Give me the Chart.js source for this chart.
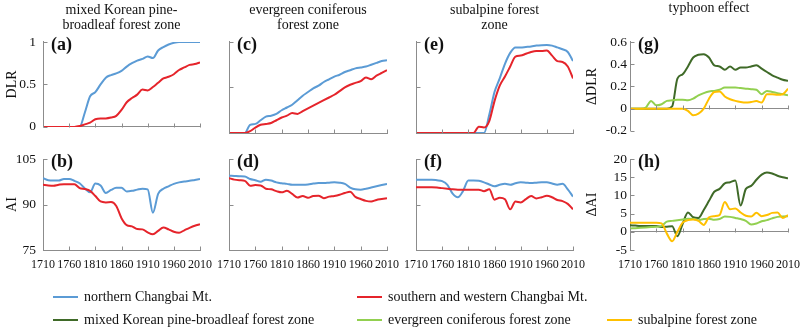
<!DOCTYPE html>
<html>
<head>
<meta charset="utf-8">
<script src="https://cdn.jsdelivr.net/npm/chart.js@4"></script>
<style>
  body { margin: 0; background: #fff; }
  #fig { position: relative; width: 800px; height: 332px; overflow: hidden;
         font-family: "Liberation Serif", "Times New Roman", Times, "DejaVu Serif", serif; color: #111; }
  #fig canvas { position: absolute; }
  .key { position: absolute; font-size: 14px; line-height: 16px; white-space: nowrap; }
  .key i { display: inline-block; width: 25px; height: 2px; vertical-align: middle; margin-right: 6px; position: relative; top: -1px; }
</style>
</head>
<body>
<div id="fig">
  <canvas id="pa"></canvas><canvas id="pc"></canvas><canvas id="pe"></canvas><canvas id="pg"></canvas>
  <canvas id="pb"></canvas><canvas id="pd"></canvas><canvas id="pf"></canvas><canvas id="ph"></canvas>
</div>
<script>
const years = [1710, 1720, 1730, 1740, 1750, 1760, 1770, 1780, 1790, 1800, 1810,
  1820, 1830, 1840, 1850, 1860, 1870, 1880, 1890, 1900, 1910, 1920, 1930, 1940,
  1950, 1960, 1970, 1980, 1990, 2000, 2010];
const yearTicks = [1710, 1760, 1810, 1860, 1910, 1960, 2010];

// DLR, northern vs southern/western slopes
const dlrNorthMixed = [0, 0, 0, 0, 0, 0, 0, 0, 0.17, 0.36, 0.41, 0.50, 0.58, 0.61, 0.63, 0.66,
  0.71, 0.75, 0.78, 0.80, 0.83, 0.81, 0.90, 0.94, 0.97, 0.99, 1, 1, 1, 1, 1];
const dlrSouthMixed = [0, 0, 0, 0, 0, 0, 0, 0.01, 0.03, 0.05, 0.09, 0.10, 0.10, 0.11, 0.13, 0.20,
  0.29, 0.34, 0.38, 0.44, 0.43, 0.47, 0.52, 0.57, 0.59, 0.62, 0.67, 0.70, 0.73, 0.74, 0.76];
const dlrNorthEvergreen = [0, 0, 0, 0, 0.09, 0.10, 0.14, 0.18, 0.19, 0.21, 0.25, 0.28, 0.31, 0.36,
  0.41, 0.45, 0.49, 0.52, 0.56, 0.59, 0.62, 0.64, 0.67, 0.69, 0.71, 0.72, 0.73, 0.75, 0.77, 0.79, 0.80];
const dlrSouthEvergreen = [0, 0, 0, 0, 0.02, 0.06, 0.09, 0.10, 0.11, 0.14, 0.17, 0.19, 0.22, 0.21,
  0.24, 0.27, 0.30, 0.33, 0.36, 0.39, 0.42, 0.46, 0.50, 0.53, 0.55, 0.57, 0.61, 0.59, 0.63, 0.66, 0.69];
const dlrNorthSubalpine = [0, 0, 0, 0, 0, 0, 0, 0, 0, 0, 0, 0, 0, 0, 0.20, 0.45, 0.60, 0.76, 0.88,
  0.94, 0.94, 0.945, 0.95, 0.96, 0.965, 0.967, 0.96, 0.94, 0.92, 0.89, 0.79];
const dlrSouthSubalpine = [0, 0, 0, 0, 0, 0, 0, 0, 0, 0, 0, 0, 0.07, 0.06, 0.13, 0.35, 0.52, 0.62,
  0.73, 0.84, 0.85, 0.87, 0.89, 0.90, 0.90, 0.905, 0.85, 0.79, 0.78, 0.73, 0.60];

// AI, northern vs southern/western slopes
const aiNorthMixed = [98.7, 98.0, 97.9, 97.9, 98.4, 98.4, 97.8, 97.0, 95.3, 94.0, 96.9, 96.3, 93.8,
  94.8, 95.5, 95.5, 94.3, 94.5, 94.9, 95.2, 95.0, 87.3, 93.5, 95.2, 96.0, 96.8, 97.3, 97.6, 97.8, 98.1, 98.4];
const aiSouthMixed = [96.5, 96.3, 96.2, 96.5, 96.7, 96.7, 96.7, 95.4, 95.1, 94.5, 92.8, 91.0, 90.7,
  90.8, 89.5, 85.5, 83.2, 82.8, 81.9, 81.8, 80.8, 80.2, 81.3, 82.4, 81.8, 81.0, 80.7, 81.5, 82.3, 83.0, 83.5];
const aiNorthEvergreen = [99.5, 99.4, 99.3, 99.2, 98.4, 98.0, 97.5, 98.2, 97.9, 97.3, 97.0, 96.8,
  96.5, 96.5, 96.5, 96.6, 96.9, 97.1, 97.1, 97.2, 97.3, 97.2, 96.8, 95.6, 95.0, 94.9, 95.2, 95.6, 96.0, 96.4, 96.8];
const aiSouthEvergreen = [98.7, 98.2, 98.0, 97.8, 96.2, 96.4, 96.3, 95.2, 95.0, 94.4, 94.0, 94.5,
  93.5, 92.3, 92.8, 92.2, 92.8, 92.9, 92.1, 92.6, 92.8, 93.2, 93.8, 94.2, 92.5, 91.8, 91.2, 91.0, 91.5, 91.8, 92.1];
const aiNorthSubalpine = [98.2, 98.2, 98.2, 98.2, 98.0, 97.7, 96.5, 93.6, 92.4, 94.5, 97.9, 97.9,
  97.8, 97.3, 96.6, 96.0, 96.5, 96.8, 96.5, 97.0, 97.3, 97.2, 97.1, 97.2, 97.3, 97.3, 96.9, 96.5, 96.8, 95.0, 92.6];
const aiSouthSubalpine = [95.7, 95.7, 95.7, 95.7, 95.6, 95.4, 95.2, 95.0, 94.9, 94.9, 94.9, 94.9,
  94.9, 94.4, 95.0, 91.6, 92.2, 91.7, 88.4, 91.0, 90.7, 91.8, 92.8, 92.0, 92.4, 92.9, 92.4, 91.5, 91.1, 90.2, 88.4];

// typhoon effect: north minus south/west
const dDlrMixed = [0, 0, 0, 0, 0, 0, 0, 0, 0.02, 0.27, 0.31, 0.38, 0.46, 0.485, 0.49, 0.46, 0.39,
  0.38, 0.35, 0.38, 0.35, 0.37, 0.37, 0.38, 0.39, 0.36, 0.33, 0.30, 0.28, 0.26, 0.25];
const dDlrEvergreen = [0, 0, 0, 0.01, 0.07, 0.03, 0.04, 0.07, 0.075, 0.08, 0.08, 0.075, 0.09, 0.12,
  0.14, 0.155, 0.16, 0.17, 0.19, 0.19, 0.19, 0.185, 0.18, 0.175, 0.17, 0.13, 0.16, 0.15, 0.14, 0.13, 0.12];
const dDlrSubalpine = [0, 0, 0, 0, 0, 0, 0, 0, 0, 0, 0, -0.02, -0.06, -0.045, 0.0, 0.09, 0.15, 0.155,
  0.11, 0.085, 0.07, 0.06, 0.055, 0.06, 0.068, 0.055, 0.13, 0.13, 0.125, 0.13, 0.18];
const dAiMixed = [1.8, 1.7, 1.6, 1.6, 1.6, 1.6, 1.3, 1.4, 1.5, -1.2, 2.2, 5.3, 4.0, 3.8, 6.0, 8.5,
  11.0, 11.8, 13.3, 13.6, 14.1, 7.2, 11.8, 12.6, 14.3, 15.7, 16.3, 16.0, 15.4, 15.0, 14.7];
const dAiEvergreen = [0.9, 1.0, 1.1, 1.2, 1.3, 1.4, 1.6, 2.8, 3.0, 3.2, 3.4, 3.6, 3.5, 3.2, 3.5, 3.6,
  3.3, 3.5, 4.2, 4.1, 3.8, 3.5, 3.0, 2.0, 2.3, 2.9, 3.2, 3.7, 4.1, 4.2, 4.3];
const dAiSubalpine = [2.5, 2.5, 2.5, 2.5, 2.5, 2.5, 2.3, -0.5, -2.6, 0.0, 2.5, 3.2, 3.4, 3.0, 1.9, 4.0,
  4.3, 4.6, 8.2, 6.2, 6.4, 5.3, 4.4, 4.2, 5.2, 4.3, 4.6, 5.2, 5.3, 3.8, 4.6];

const seriesNames = ['northern Changbai Mt.', 'southern and western Changbai Mt.',
  'mixed Korean pine-broadleaf forest zone', 'evergreen coniferous forest zone', 'subalpine forest zone'];
const seriesColors = ['#5b9bd5', '#e5242b', '#3f6a28', '#92d050', '#ffc000'];
const [blue, red, darkGreen, lightGreen, gold] = seriesColors;

const serif = '"Liberation Serif", "Times New Roman", Times, "DejaVu Serif", serif';
const ink = '#111';
const axisGray = '#8c8c8c';

// short tick marks pointing into the plot
const innerTicks = {
  id: 'innerTicks',
  afterDraw(chart, args, opts) {
    const { ctx, chartArea, scales: { x, y } } = chart;
    const base = Math.round(opts.zeroLine ? y.getPixelForValue(0) : chartArea.bottom) + 0.5;
    const left = Math.round(chartArea.left) + 0.5;
    ctx.save();
    ctx.strokeStyle = axisGray;
    ctx.lineWidth = 1;
    ctx.beginPath();
    x.ticks.forEach(t => {
      const px = Math.round(x.getPixelForValue(t.value)) + 0.5;
      ctx.moveTo(px, base); ctx.lineTo(px, base - 4);
    });
    y.ticks.forEach(t => {
      const py = Math.round(y.getPixelForValue(t.value)) + 0.5;
      ctx.moveTo(left, py); ctx.lineTo(left + 4, py);
    });
    ctx.stroke();
    ctx.restore();
  }
};

// bold panel letter in the top-left corner
const panelTag = {
  id: 'panelTag',
  afterDraw(chart, args, opts) {
    const { ctx, chartArea } = chart;
    ctx.save();
    ctx.font = 'bold 18px ' + serif;
    ctx.fillStyle = ink;
    ctx.textBaseline = 'middle';
    ctx.fillText(opts.text, chartArea.left + 8, chartArea.top + 3);
    ctx.restore();
  }
};

const cols = [
  { x: 0, w: 215, yw: 43, right: 15, labelPad: 7 },
  { x: 205, w: 197, yw: 24, right: 15, labelPad: 7 },
  { x: 398, w: 190, yw: 18, right: 15, labelPad: 7 },
  { x: 580, w: 220, yw: 50, right: 12, labelPad: 3 }
];
const rows = [
  { y: 0, h: 142, top: 0, xh: 9, labels: false },
  { y: 140, h: 140, top: 19, xh: 30, labels: true }
];

const tickText = v => String(Math.round(v * 100) / 100);

function panel(id, col, row, o) {
  const canvas = document.getElementById(id);
  canvas.width = col.w; canvas.height = row.h;
  canvas.style.left = col.x + 'px'; canvas.style.top = row.y + 'px';
  const title = o.title
    ? { display: true, text: o.title, fullSize: false, color: ink,
        font: { family: serif, size: 14, weight: 'normal', lineHeight: 1.07 },
        padding: o.title.length === 2 ? { top: 2.5, bottom: 9.5 } : { top: 0.5, bottom: 26.5 } }
    : { display: false };
  return new Chart(canvas, {
    type: 'line',
    data: {
      datasets: o.series.map(s => ({
        data: years.map((yr, i) => ({ x: yr, y: s.data[i] })),
        borderColor: s.color,
        borderWidth: 2,
        pointRadius: 0,
        cubicInterpolationMode: 'monotone',
        fill: false
      }))
    },
    options: {
      responsive: false,
      animation: false,
      events: [],
      layout: { padding: { left: 0, right: col.right, top: row.top, bottom: 0 } },
      plugins: {
        legend: { display: false },
        tooltip: { enabled: false },
        title,
        innerTicks: { zeroLine: !!o.zeroLine },
        panelTag: { text: o.tag }
      },
      scales: {
        x: {
          type: 'linear', min: 1710, max: 2010,
          afterBuildTicks: s => { s.ticks = yearTicks.map(v => ({ value: v })); },
          afterFit: s => { s.height = row.xh; s.paddingLeft = 0; s.paddingRight = 0; },
          grid: { display: false, drawTicks: false },
          border: { display: !o.zeroLine, color: axisGray },
          ticks: { display: row.labels, padding: 8, font: { family: serif, size: 12 }, color: ink,
                   maxRotation: 0, autoSkip: false, callback: v => String(v) }
        },
        y: {
          min: o.yMin, max: o.yMax,
          ticks: { display: !!o.yLabels, stepSize: o.yStep, padding: col.labelPad,
                   font: { family: serif, size: 13.5 }, color: ink, autoSkip: false, callback: tickText },
          afterFit: s => { s.width = col.yw; },
          grid: {
            display: !!o.zeroLine, drawTicks: false,
            color: c => (c.tick && c.tick.value === 0 ? axisGray : 'rgba(0,0,0,0)')
          },
          border: { color: axisGray },
          title: {
            display: !!o.yTitle, text: o.yTitle, color: ink,
            font: { family: serif, size: 14 }, padding: { top: 4, bottom: 0 }
          }
        }
      }
    },
    plugins: [innerTicks, panelTag]
  });
}

const dlrAxis = { yMin: 0, yMax: 1, yStep: 0.5 };
const aiAxis = { yMin: 75, yMax: 105, yStep: 15 };

panel('pa', cols[0], rows[0], { ...dlrAxis, tag: '(a)', yLabels: true, yTitle: 'DLR',
  title: ['mixed Korean pine-', 'broadleaf forest zone'],
  series: [{ data: dlrSouthMixed, color: red }, { data: dlrNorthMixed, color: blue }] });
panel('pc', cols[1], rows[0], { ...dlrAxis, tag: '(c)',
  title: ['evergreen coniferous', 'forest zone'],
  series: [{ data: dlrSouthEvergreen, color: red }, { data: dlrNorthEvergreen, color: blue }] });
panel('pe', cols[2], rows[0], { ...dlrAxis, tag: '(e)',
  title: ['subalpine forest', 'zone'],
  series: [{ data: dlrSouthSubalpine, color: red }, { data: dlrNorthSubalpine, color: blue }] });
panel('pg', cols[3], rows[0], { yMin: -0.2, yMax: 0.6, yStep: 0.2, tag: '(g)', yLabels: true,
  yTitle: 'ΔDLR', zeroLine: true, title: ['typhoon effect'],
  series: [{ data: dDlrSubalpine, color: gold }, { data: dDlrEvergreen, color: lightGreen },
           { data: dDlrMixed, color: darkGreen }] });

panel('pb', cols[0], rows[1], { ...aiAxis, tag: '(b)', yLabels: true, yTitle: 'AI',
  series: [{ data: aiSouthMixed, color: red }, { data: aiNorthMixed, color: blue }] });
panel('pd', cols[1], rows[1], { ...aiAxis, tag: '(d)',
  series: [{ data: aiSouthEvergreen, color: red }, { data: aiNorthEvergreen, color: blue }] });
panel('pf', cols[2], rows[1], { ...aiAxis, tag: '(f)',
  series: [{ data: aiSouthSubalpine, color: red }, { data: aiNorthSubalpine, color: blue }] });
panel('ph', cols[3], rows[1], { yMin: -5, yMax: 20, yStep: 5, tag: '(h)', yLabels: true,
  yTitle: 'ΔAI', zeroLine: true,
  series: [{ data: dAiSubalpine, color: gold }, { data: dAiEvergreen, color: lightGreen },
           { data: dAiMixed, color: darkGreen }] });

// shared key below the panels
const keyRows = [[0, 1], [2, 3, 4]];
const keyCols = [53, 357, 607];
const keyTops = [289, 312];
const fig = document.getElementById('fig');
keyRows.forEach((row, r) => row.forEach((s, c) => {
  const item = document.createElement('div');
  item.className = 'key';
  item.style.left = keyCols[c] + 'px';
  item.style.top = keyTops[r] + 'px';
  const swatch = document.createElement('i');
  swatch.style.background = seriesColors[s];
  item.appendChild(swatch);
  item.appendChild(document.createTextNode(seriesNames[s]));
  fig.appendChild(item);
}));
</script>
</body>
</html>
